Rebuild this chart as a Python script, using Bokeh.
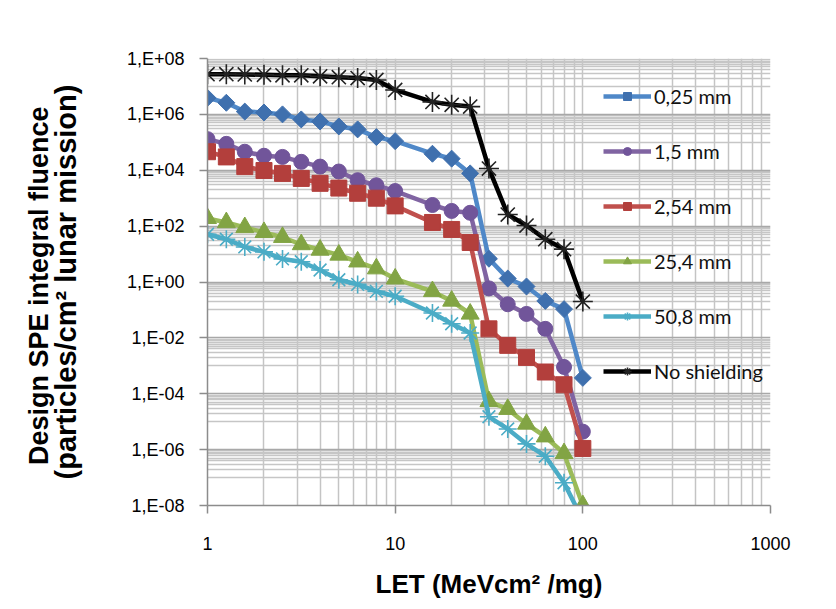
import math
from bokeh.plotting import figure
from bokeh.models import FixedTicker, LogAxis, Legend, LegendItem
from bokeh.embed import file_html
from bokeh.resources import INLINE

# ---- data ----
let = [1, 1.26, 1.58, 2, 2.51, 3.16, 3.98, 5.01, 6.31, 7.94,
       10, 15.8, 20, 25.1, 31.6, 39.8, 50.1, 63.1, 79.4, 100]

series_names = ["0,25 mm", "1,5 mm", "2,54 mm", "25,4 mm", "50,8 mm", "No shielding"]

f_0_25 = [3.9e6, 2.6e6, 1.26e6, 1.17e6, 1.0e6, 6.6e5, 5.6e5, 3.7e5, 2.9e5, 1.54e5,
          1.1e5, 3.9e4, 2.6e4, 7.7e3, 6.8, 1.33, 0.69, 0.21, 0.107, 3.7e-4]
f_1_5 = [1.3e5, 8.8e4, 4.6e4, 3.3e4, 3.0e4, 2.0e4, 1.35e4, 9.0e3, 4.4e3, 2.9e3,
         1.8e3, 5.7e2, 3.5e2, 3.0e2, 0.59, 0.16, 0.072, 0.021, 9.1e-4, 4.4e-6]
f_2_54 = [4.6e4, 3.0e4, 1.35e4, 9.8e3, 7.7e3, 5.1e3, 3.4e3, 2.3e3, 1.5e3, 1.0e3,
          5.3e2, 1.35e2, 76, 26, 0.021, 5.4e-3, 2.0e-3, 6.0e-4, 2.1e-4, 1.1e-6]
f_25_4 = [1.9e2, 1.35e2, 90, 60, 40, 22, 14, 9.3, 5.3, 3.0,
          1.3, 0.46, 0.21, 0.072, 5.3e-5, 2.8e-5, 8.3e-6, 2.9e-6, 7.3e-7, 1e-8]
f_50_8 = [51, 34, 18, 12, 6.7, 5.3, 2.7, 1.2, 0.82, 0.46,
          0.31, 0.078, 0.032, 0.015, 1.5e-5, 5.5e-6, 1.6e-6, 5.8e-7, 6.5e-8, 3e-9]
f_none = [2.75e7, 2.75e7, 2.7e7, 2.6e7, 2.5e7, 2.5e7, 2.3e7, 2.15e7, 2.0e7, 1.7e7,
          7.5e6, 2.8e6, 2.2e6, 1.9e6, 1.15e4, 2.6e2, 1.05e2, 34, 15, 0.2]

x_ticks = [1, 10, 100, 1000]
x_tick_labels = ["1", "10", "100", "1000"]
y_ticks = [1e-8, 1e-6, 1e-4, 1e-2, 1e0, 1e2, 1e4, 1e6, 1e8]
y_tick_labels = ["1,E-08", "1,E-06", "1,E-04", "1,E-02", "1,E+00",
                 "1,E+02", "1,E+04", "1,E+06", "1,E+08"]

# ---- figure ----
p = figure(width=828, height=601, x_axis_type="log", y_axis_type="log",
           x_range=(1, 1000), y_range=(1e-8, 1e8),
           output_backend="svg", toolbar_location=None,
           min_border_left=207, min_border_right=58,
           min_border_top=58, min_border_bottom=88)
p.outline_line_color = None
p.background_fill_color = "white"

# grids
x_minor = [k * d for d in (1, 10, 100) for k in range(2, 10)]
p.xgrid.ticker = FixedTicker(ticks=x_ticks, minor_ticks=x_minor)
p.xgrid.grid_line_color = "#c4c4c4"
p.xgrid.grid_line_width = 1.5
p.xgrid.minor_grid_line_color = "#c4c4c4"
p.xgrid.minor_grid_line_width = 1.5

y_minor = [m * k / 10 for m in y_ticks[1:] for k in range(1, 10)]
p.ygrid.ticker = FixedTicker(ticks=y_ticks, minor_ticks=y_minor)
p.ygrid.grid_line_color = "#a8a8a8"
p.ygrid.grid_line_width = 1.5
p.ygrid.minor_grid_line_color = "#c6c6c6"
p.ygrid.minor_grid_line_width = 1.5

tick_font = "Liberation Sans"

xa = p.xaxis[0]
xa.ticker = FixedTicker(ticks=x_ticks)
xa.major_label_overrides = dict(zip(x_ticks, x_tick_labels))
xa.minor_tick_line_color = None
xa.major_tick_in = 0
xa.major_tick_out = 8
xa.axis_line_color = "#8c8c8c"
xa.axis_line_width = 1.5
xa.major_tick_line_color = "#8c8c8c"
xa.major_tick_line_width = 1.5
xa.major_label_text_font = tick_font
xa.major_label_text_font_size = "18px"
xa.major_label_text_color = "black"
xa.major_label_standoff = 23
xa.axis_label = "LET (MeVcm\u00b2 /mg)"
xa.axis_label_text_font = "Liberation Sans"
xa.axis_label_text_font_style = "bold"
xa.axis_label_text_font_size = "26px"
xa.axis_label_text_color = "black"
xa.axis_label_standoff = 16

ya = p.yaxis[0]
ya.ticker = FixedTicker(ticks=y_ticks)
ya.major_label_overrides = dict(zip(y_ticks, y_tick_labels))
ya.minor_tick_line_color = None
ya.major_tick_in = 0
ya.major_tick_out = 8
ya.axis_line_color = "#8c8c8c"
ya.axis_line_width = 1.5
ya.major_tick_line_color = "#8c8c8c"
ya.major_tick_line_width = 1.5
ya.major_label_text_font = tick_font
ya.major_label_text_font_size = "18px"
ya.major_label_text_color = "black"
ya.major_label_standoff = 15
ya.axis_label = "(particles/cm\u00b2 lunar mission)"
ya.axis_label_text_font = "Liberation Sans"
ya.axis_label_text_font_style = "bold"
ya.axis_label_text_font_size = "29px"
ya.axis_label_text_color = "black"
ya.axis_label_standoff = 42

ya2 = LogAxis(axis_label="Design SPE  integral fluence",
              ticker=FixedTicker(ticks=[]),
              major_tick_line_color=None, minor_tick_line_color=None,
              axis_line_color=None, major_label_text_font_size="0px",
              major_tick_out=0, major_tick_in=0, major_label_standoff=0,
              axis_label_standoff=-7,
              axis_label_text_font="Liberation Sans",
              axis_label_text_font_style="bold",
              axis_label_text_font_size="27px",
              axis_label_text_color="black")
p.add_layout(ya2, "left")

# ---- series ----
styles = [
    (f_0_25, "#4F88C8", "#3F70AE", "square", 12, math.pi / 4),
    (f_1_5, "#8064A2", "#71559A", "circle", 15, 0),
    (f_2_54, "#C0504D", "#B33F3C", "square", 16, 0),
    (f_25_4, "#9BBB59", "#82A444", "triangle", 18, 0),
    (f_50_8, "#4BACC6", "#4BACC6", "asterisk", 18, 0),
    (f_none, "#000000", "#222222", "asterisk", 20, 0),
]

items = []
for name, (vals, lc, mc, marker, size, ang) in zip(series_names, styles):
    lr = p.line(let, vals, line_color=lc, line_width=4.5, line_join="round")
    if marker == "asterisk":
        sr = p.scatter(let, vals, marker=marker, size=size, line_color=mc,
                       line_width=1.6, fill_color=None)
    else:
        sr = p.scatter(let, vals, marker=marker, size=size, angle=ang,
                       fill_color=mc, line_color=mc, line_width=1)
    items.append(LegendItem(label=name, renderers=[lr, sr]))

legend = Legend(items=items, location=(396, 122),
                glyph_width=48, glyph_height=20, spacing=31,
                padding=0, margin=0, label_standoff=3,
                background_fill_alpha=0, border_line_color=None,
                label_text_font="Lato", label_text_font_size="20px",
                label_text_color="#111111")
p.add_layout(legend)

open("out.html", "w").write(file_html(p, INLINE))
